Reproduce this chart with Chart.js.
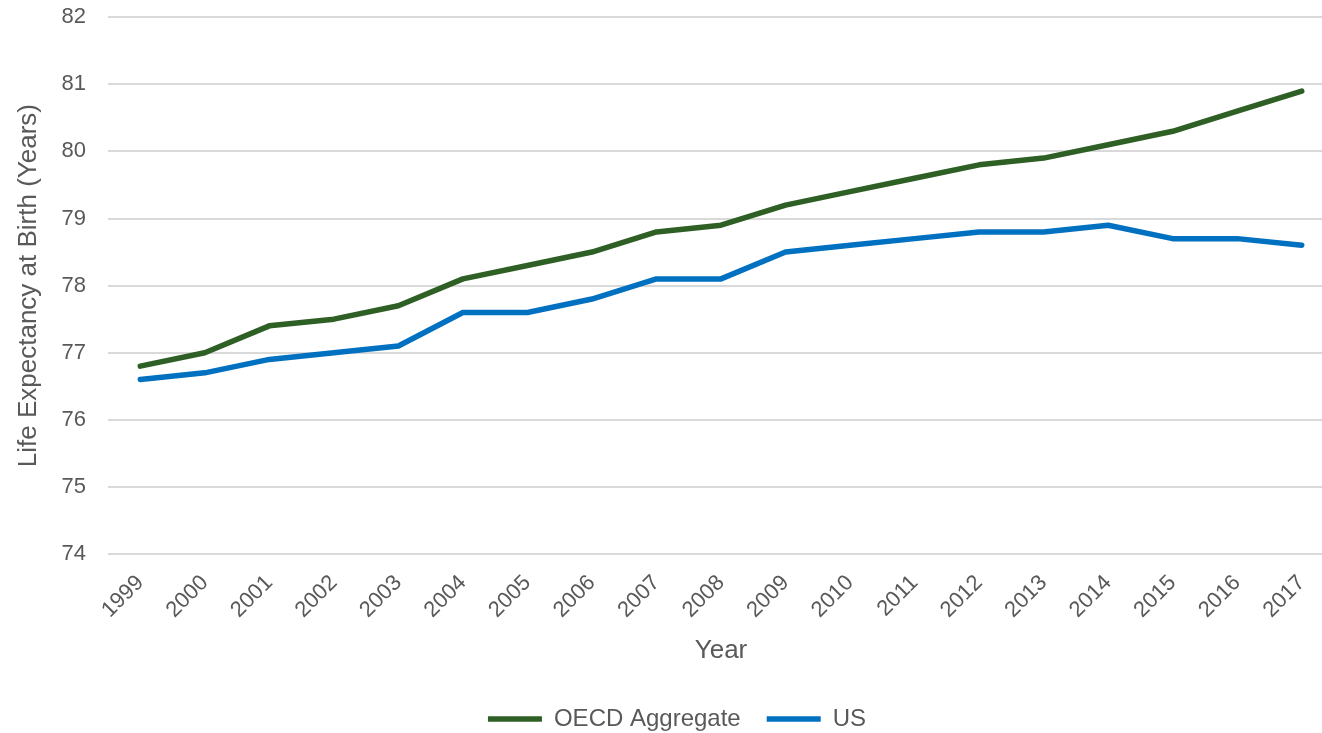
<!DOCTYPE html>
<html>
<head>
<meta charset="utf-8">
<title>Life Expectancy at Birth</title>
<script src="https://cdn.jsdelivr.net/npm/chart.js@4/dist/chart.umd.min.js"></script>
<style>
	html, body { margin: 0; padding: 0; background: #fff; overflow: hidden; }
	#wrap { width: 1336px; height: 763px; margin-top: -18px; }
</style>
</head>
<body>
<div id="wrap"><canvas id="chart-esperanza"></canvas></div>
<script>
	var anios = ['1999', '2000', '2001', '2002', '2003', '2004', '2005', '2006', '2007', '2008',
		'2009', '2010', '2011', '2012', '2013', '2014', '2015', '2016', '2017'];
	var oecd = [76.8, 77.0, 77.4, 77.5, 77.7, 78.1, 78.3, 78.5, 78.8, 78.9,
		79.2, 79.4, 79.6, 79.8, 79.9, 80.1, 80.3, 80.6, 80.9];
	var us = [76.6, 76.7, 76.9, 77.0, 77.1, 77.6, 77.6, 77.8, 78.1, 78.1,
		78.5, 78.6, 78.7, 78.8, 78.8, 78.9, 78.7, 78.7, 78.6];
	var yMin = 74;
	var yMax = 82;

	var gris = '#595959';
	Chart.defaults.font.family = '"Liberation Sans", Arial, sans-serif';
	Chart.defaults.color = gris;

	function serie(label, datos, color) {
		return {
			label: label,
			data: datos,
			borderColor: color,
			backgroundColor: color,
			borderWidth: 5.5,
			borderCapStyle: 'round',
			borderJoinStyle: 'round',
			pointRadius: 0,
			pointHoverRadius: 0,
			pointStyle: 'line',
			tension: 0,
			fill: false,
		};
	}

	new Chart(document.getElementById('chart-esperanza'), {
		type: 'line',
		data: {
			labels: anios,
			datasets: [
				serie('OECD Aggregate', oecd, '#2E5F24'),
				serie('US', us, '#0070C0'),
			],
		},
		options: {
			responsive: true,
			maintainAspectRatio: false,
			animation: false,
			// el margen izquierdo corre la leyenda hacia la derecha; el eje y lo compensa
			layout: { padding: { top: 0, right: 2, left: 20, bottom: 4 } },
			plugins: {
				tooltip: { enabled: false },
				legend: {
					position: 'bottom',
					labels: {
						usePointStyle: true,
						pointStyle: 'line',
						pointStyleWidth: 54,
						padding: 26,
						font: { size: 24 },
						color: gris,
					},
				},
			},
			scales: {
				x: {
					offset: true,
					grid: { display: false },
					border: { display: false },
					ticks: {
						font: { size: 22 },
						color: gris,
						maxRotation: 45,
						minRotation: 45,
						autoSkip: false,
						padding: 8,
					},
					title: {
						display: true,
						text: 'Year',
						font: { size: 26 },
						color: gris,
						padding: { top: 8, bottom: 15 },
					},
					afterFit: function (escala) { escala.height = 127; },
				},
				y: {
					min: yMin,
					max: yMax,
					grid: { color: '#D9D9D9', lineWidth: 2, drawTicks: false },
					border: { display: false },
					ticks: {
						stepSize: 1,
						font: { size: 22 },
						color: gris,
						padding: 22,
					},
					title: {
						display: true,
						text: 'Life Expectancy at Birth (Years)',
						font: { size: 26 },
						color: gris,
						padding: { top: -7, bottom: 4 },
					},
					afterFit: function (escala) { escala.width = 88; },
				},
			},
		},
	});
</script>
</body>
</html>
